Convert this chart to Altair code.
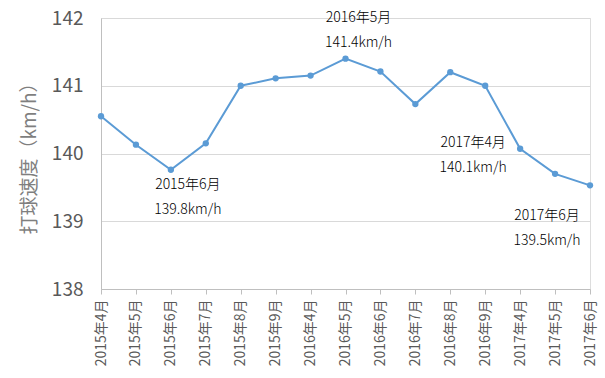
import altair as alt
import pandas as pd

months = ["2015年4月", "2015年5月", "2015年6月", "2015年7月", "2015年8月", "2015年9月",
          "2016年4月", "2016年5月", "2016年6月", "2016年7月", "2016年8月", "2016年9月",
          "2017年4月", "2017年5月", "2017年6月"]
speeds = [140.55, 140.13, 139.76, 140.15, 141.0, 141.11,
          141.15, 141.40, 141.21, 140.73, 141.2, 141.0,
          140.07, 139.70, 139.53]

# annotations: (month, value, label, dx, dy_first_line)
ann_months = ["2015年6月", "2016年5月", "2017年4月", "2017年6月"]
ann_values = [139.76, 141.40, 140.07, 139.53]
ann_texts = ["139.8km/h", "141.4km/h", "140.1km/h", "139.5km/h"]
ann_dx = [17, 13, -47, -43]
ann_dy = [15, -41, -6, 31]

df = pd.DataFrame({"month": months, "speed": speeds})

FONT = "Noto Sans CJK JP"

x = alt.X("month:N", sort=months, title=None,
          scale=alt.Scale(type="point", padding=0),
          axis=alt.Axis(labelAngle=-90, labelFontSize=14, labelColor="#595959",
                        labelFont=FONT, tickColor="#bfbfbf", tickSize=5,
                        domainColor="#bfbfbf", labelPadding=5, grid=False))
y = alt.Y("speed:Q", title="打球速度（km/h）",
          scale=alt.Scale(domain=[138, 142], nice=False, zero=False),
          axis=alt.Axis(values=[138, 139, 140, 141, 142], format="d",
                        labelFontSize=19, labelColor="#595959", labelFont=FONT,
                        ticks=False, labelPadding=18, domainColor="#bfbfbf",
                        gridColor="#d9d9d9", titleFontSize=19, titleColor="#7f7f7f",
                        titleFont=FONT, titleFontWeight="normal", titlePadding=12))

base = alt.Chart(df)
line = base.mark_line(color="#5b9bd5", strokeWidth=2).encode(x=x, y=y)
pts = base.mark_point(color="#5b9bd5", filled=True, size=40, opacity=1).encode(x=x, y=y)

layers = [line, pts]
for m, v, t, dx, dy in zip(ann_months, ann_values, ann_texts, ann_dx, ann_dy):
    adf = pd.DataFrame({"month": [m], "speed": [v], "label": [m + "\n" + t]})
    layers.append(
        alt.Chart(adf).mark_text(font=FONT, fontSize=14, fontWeight=300, color="#000000",
                                 lineBreak="\n", lineHeight=25, dx=dx, dy=dy,
                                 baseline="middle", align="center")
        .encode(x=alt.X("month:N", sort=months), y=alt.Y("speed:Q"), text="label:N")
    )

chart = alt.layer(*layers).properties(
    width=489, height=271,
    autosize=alt.AutoSizeParams(type="none"),
    padding={"left": 101, "top": 18, "right": 15, "bottom": 89},
).configure_view(stroke=None).configure(background="white")

chart.save("out.html", embed_options={"renderer": "svg", "actions": False})
